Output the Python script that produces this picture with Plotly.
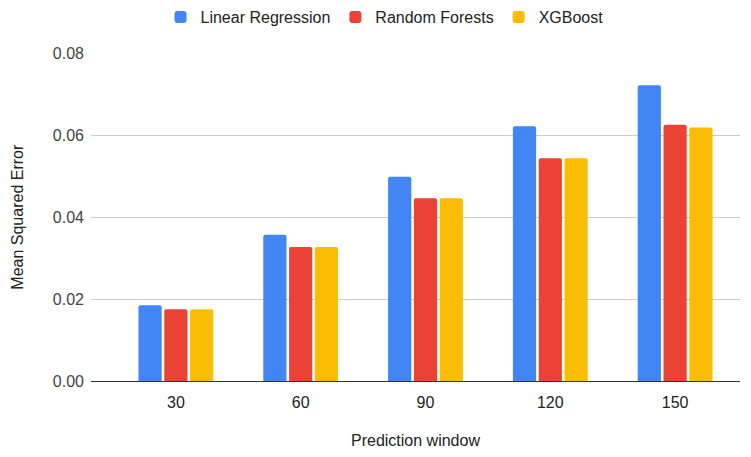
import plotly.graph_objects as go

# Mean squared error per model, for each prediction window
windows = ["30", "60", "90", "120", "150"]
linear_regression = [0.0185, 0.0357, 0.0499, 0.0622, 0.0722]
random_forests = [0.0175, 0.0327, 0.0446, 0.0544, 0.0626]
xgboost = [0.0175, 0.0327, 0.0446, 0.0544, 0.0619]

series = [
    ("Linear Regression", linear_regression, "#4285F4"),
    ("Random Forests", random_forests, "#EA4335"),
    ("XGBoost", xgboost, "#FBBC04"),
]

fig = go.Figure()
for name, values, color in series:
    fig.add_trace(go.Bar(
        x=windows, y=values, name=name,
        marker=dict(color=color, line=dict(width=0)),
    ))

font_family = "Liberation Sans, Arial, sans-serif"
fig.update_layout(
    width=751, height=457,
    margin=dict(l=91, r=11, t=52, b=74),
    paper_bgcolor="white", plot_bgcolor="white",
    font=dict(family=font_family, size=16, color="#444444"),
    barmode="group", bargap=0.38, bargroupgap=0.1, barcornerradius=2,
    legend=dict(
        orientation="h", xref="container", yref="container",
        x=0.512, xanchor="center", y=1.0, yanchor="top",
        font=dict(size=16, color="#222222"),
        itemwidth=30, tracegroupgap=0,
    ),
    xaxis=dict(
        type="category", range=[-0.68, 4.52],
        showgrid=False, showline=False, zeroline=False, ticks="",
        ticklabelstandoff=10,
        tickfont=dict(size=16, color="#222222"),
        title=dict(text="Prediction window", standoff=24,
                   font=dict(size=16, color="#222222")),
    ),
    yaxis=dict(
        range=[0, 0.08], tickvals=[0, 0.02, 0.04, 0.06, 0.08],
        tickformat=".2f",
        showgrid=True, gridcolor="#cccccc", gridwidth=1,
        zeroline=True, zerolinecolor="#333333", zerolinewidth=1.2,
        showline=False, ticks="", ticklabelstandoff=6,
        tickfont=dict(size=16, color="#444444"),
        title=dict(text="Mean Squared Error", standoff=25,
                   font=dict(size=16, color="#222222")),
    ),
)

fig.write_html("out.html")
